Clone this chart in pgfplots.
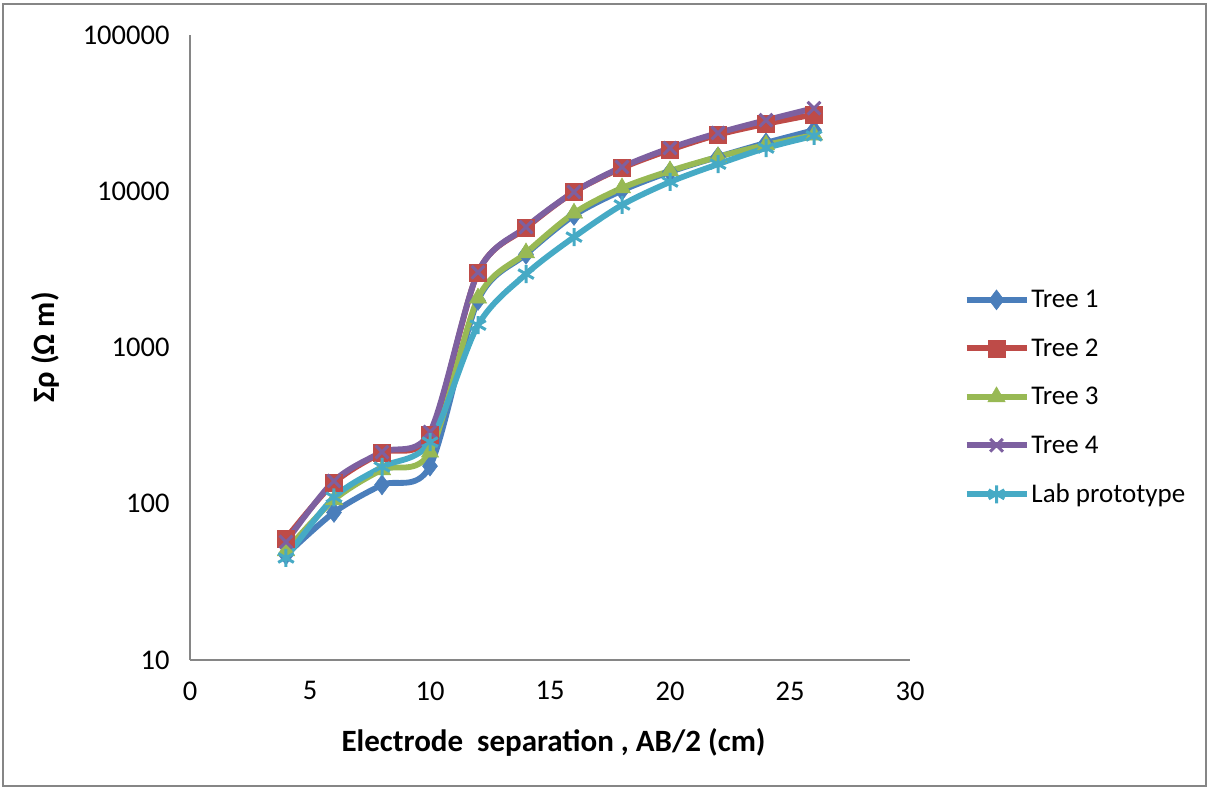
\documentclass[border=0pt]{standalone}
\usepackage{fontspec}
\setmainfont{Carlito}
\usepackage{pgfplots}
\pgfplotsset{compat=1.18}
\definecolor{c1}{HTML}{4A7EBB}
\definecolor{c2}{HTML}{BE4B48}
\definecolor{c3}{HTML}{98B954}
\definecolor{c4}{HTML}{7D60A0}
\definecolor{c5}{HTML}{46AAC5}
\definecolor{axgray}{HTML}{868686}
\begin{document}
\begin{tikzpicture}[x=1pt,y=1pt]
\path[use as bounding box] (-190,-127) rectangle (1017,660);
\draw[axgray,line width=2.5pt] (-187,-126) rectangle (1016,656);
\begin{axis}[
  at={(0,0)}, anchor=south west,
  scale only axis, width=720pt, height=625pt,
  xmin=0, xmax=30, ymin=10, ymax=100000,
  ymode=log,
  axis lines=left,
  axis line style={axgray, line width=1.5pt, -},
  xtick={0,5,...,30},
  ytick={10,100,1000,10000,100000},
  yticklabels={10,100,1000,10000,100000},
  minor tick num=0, yminorticks=false,
  major tick length=0pt,
  /pgf/number format/assume math mode=true,
  tick label style={font=\fontsize{28.5}{32}\selectfont, black},
  xticklabel style={yshift=-18pt},
  yticklabel style={xshift=-17pt},
  xlabel={\textbf{Electrode\ \ separation , AB/2 (cm)}},
  ylabel={\textbf{Σρ (Ω m)}},
  label style={font=\fontsize{31}{36}\selectfont},
  xlabel style={at={(axis description cs:0.505,0)}, anchor=center, yshift=-82pt},
  ylabel style={at={(axis description cs:-0.2014,0.5)}, anchor=center, rotate=0},
  legend style={draw=none, at={(1.07,0.598)}, anchor=north west,
    font=\fontsize{27}{31}\selectfont, row sep=25.5pt, fill=none},
  legend cell align=left,
  legend image code/.code={
    \draw[mark repeat=2, mark phase=2, #1] plot coordinates {(0pt,0pt) (30pt,0pt) (60pt,0pt)};
  },
  every axis plot/.append style={line width=5.8pt, smooth, tension=0.5},
  clip=false,
]
\addplot[c1, mark=diamond*, mark size=10pt, mark options={fill=c1, line width=0.5pt}] coordinates {
(4,47) (6,88) (8,132) (10,174) (12,2000) (14,3950) (16,7000) (18,10100) (20,13300) (22,16600) (24,20400) (26,24600)};
\addplot[c2, mark=square*, mark size=8.5pt, mark options={fill=c2, line width=0.5pt}] coordinates {
(4,60) (6,136) (8,212) (10,276) (12,3030) (14,5820) (16,9890) (18,14100) (20,18400) (22,23000) (24,27000) (26,31000)};
\addplot[c3, mark=triangle*, mark size=10pt, mark options={fill=c3, line width=0.5pt}] coordinates {
(4,50) (6,106) (8,165) (10,214) (12,2070) (14,4030) (16,7240) (18,10500) (20,13500) (22,16600) (24,19800) (26,22900)};
\addplot[c4, mark=x, mark size=9pt, mark options={line width=3pt}] coordinates {
(4,57) (6,140) (8,214) (10,288) (12,3030) (14,5900) (16,9900) (18,14300) (20,18900) (22,23600) (24,28500) (26,34000)};
\addplot[c5, mark=asterisk, mark size=9pt, mark options={line width=3pt}] coordinates {
(4,45) (6,110) (8,172) (10,248) (12,1390) (14,2950) (16,5090) (18,8170) (20,11460) (22,14900) (24,18900) (26,22600)};
\legend{Tree 1,Tree 2,Tree 3,Tree 4,Lab prototype}
\end{axis}
\end{tikzpicture}
\end{document}
